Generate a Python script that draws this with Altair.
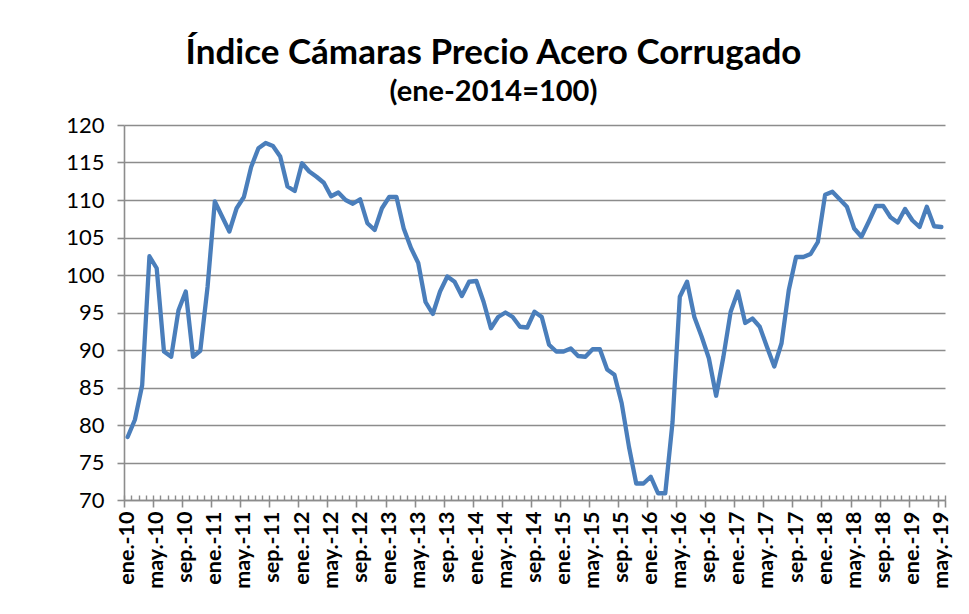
import altair as alt
import pandas as pd

# Monthly index values, ene-2010 .. may-2019 (113 months)
index_values = [
    78.4, 80.7, 85.3, 102.5, 100.9, 89.8, 89.1, 95.3, 97.8, 89.1, 89.9, 98.4,      # 2010
    109.8, 107.8, 105.8, 108.9, 110.4, 114.4, 116.9, 117.6, 117.2, 115.8, 111.8, 111.2,  # 2011
    114.9, 113.8, 113.1, 112.3, 110.5, 111.0, 110.0, 109.5, 110.1, 106.9, 106.0, 108.9,  # 2012
    110.4, 110.4, 106.2, 103.6, 101.6, 96.4, 94.8, 97.8, 99.8, 99.1, 97.2, 99.1,   # 2013
    99.2, 96.4, 92.9, 94.4, 95.0, 94.4, 93.1, 93.0, 95.1, 94.4, 90.7, 89.8,        # 2014
    89.8, 90.2, 89.2, 89.1, 90.1, 90.1, 87.4, 86.7, 82.9, 77.1, 72.2, 72.2,        # 2015
    73.1, 70.9, 70.9, 80.4, 97.1, 99.1, 94.4, 91.8, 88.9, 83.9, 89.1, 95.1,        # 2016
    97.8, 93.6, 94.2, 93.1, 90.4, 87.8, 90.9, 98.0, 102.4, 102.4, 102.8, 104.4,    # 2017
    110.7, 111.1, 110.1, 109.1, 106.2, 105.1, 107.1, 109.2, 109.2, 107.7, 107.0, 108.8,  # 2018
    107.3, 106.4, 109.1, 106.5, 106.4,                                             # 2019
]

tick_labels = [
    "ene.-10", "may.-10", "sep.-10", "ene.-11", "may.-11", "sep.-11",
    "ene.-12", "may.-12", "sep.-12", "ene.-13", "may.-13", "sep.-13",
    "ene.-14", "may.-14", "sep.-14", "ene.-15", "may.-15", "sep.-15",
    "ene.-16", "may.-16", "sep.-16", "ene.-17", "may.-17", "sep.-17",
    "ene.-18", "may.-18", "sep.-18", "ene.-19", "may.-19",
]

y_ticks = [70, 75, 80, 85, 90, 95, 100, 105, 110, 115, 120]

n = len(index_values)
month_idx = list(range(n))
df = pd.DataFrame({"i": month_idx, "v": index_values})

label_positions = [4 * k for k in range(len(tick_labels))]
major_bounds = [p - 0.5 for p in label_positions] + [n - 0.5]
minor_bounds = [k - 0.5 for k in range(n + 1)]

label_array = "[" + ",".join("'" + s + "'" for s in tick_labels) + "]"
label_expr = label_array + "[round(datum.value / 4)]"

GRAY = "#8C8C8C"
FONT = "Lato"
W, H = 821, 375

xscale = alt.Scale(domain=[-0.5, n - 0.5], nice=False, zero=False)
yscale = alt.Scale(domain=[70, 120], nice=False, zero=False)

line = alt.Chart(df).mark_line(
    color="#4A7EBB", strokeWidth=4.3, strokeJoin="round", strokeCap="round"
).encode(
    x=alt.X("i:Q", scale=xscale, axis=alt.Axis(
        orient="bottom", values=label_positions, labelExpr=label_expr,
        ticks=False, grid=False, labelAngle=-90, labelPadding=11,
        labelFont=FONT, labelFontSize=21.5, labelFontWeight="bold",
        labelColor="black", domainColor=GRAY, domainWidth=1.6,
        title=None, labelOverlap=False, labelFlush=False)),
    y=alt.Y("v:Q", scale=yscale, axis=alt.Axis(
        values=y_ticks, grid=True, gridColor=GRAY, gridWidth=1.6,
        tickSize=7, tickColor=GRAY, tickWidth=1.6,
        domainColor=GRAY, domainWidth=1.6, labelPadding=13,
        labelFont=FONT, labelFontSize=22, labelColor="black", title=None)),
)

major = alt.Chart(df).mark_point(opacity=0).encode(
    x=alt.X("i:Q", scale=xscale, axis=alt.Axis(
        orient="bottom", values=major_bounds, labels=False, domain=False,
        grid=False, tickSize=7, tickColor=GRAY, tickWidth=1.6, title=None)),
)

minor = alt.Chart(df).mark_point(opacity=0).encode(
    x=alt.X("i:Q", scale=xscale, axis=alt.Axis(
        orient="top", offset=-H, values=minor_bounds, labels=False,
        domain=False, grid=False, tickSize=5, tickColor=GRAY, tickWidth=1.4,
        title=None)),
)

chart = alt.layer(line, major, minor).resolve_scale(
    x="independent"
).resolve_axis(
    x="independent"
).properties(
    width=W, height=H,
    background="white",
    autosize=alt.AutoSizeParams(type="none"),
    padding={"left": 116, "top": 117, "right": 16, "bottom": 106},
    title=alt.TitleParams(
        text="Índice Cámaras Precio Acero Corrugado",
        subtitle="(ene-2014=100)",
        font=FONT, fontSize=35, fontWeight="bold", color="black",
        subtitleFont=FONT, subtitleFontSize=29, subtitleFontWeight="bold",
        subtitleColor="black", subtitlePadding=7,
        anchor="middle", dx=-41, offset=7,
    ),
).configure_view(stroke=None)

chart.save("out.html", embed_options={"renderer": "svg", "actions": False})
